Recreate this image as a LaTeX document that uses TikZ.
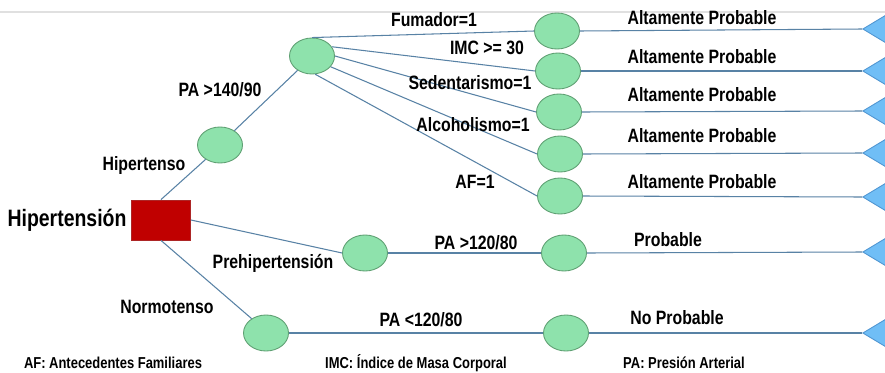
\documentclass[tikz,border=0pt]{standalone}
\usepackage{fontspec}
\setmainfont{Liberation Sans}[FakeStretch=0.82]
\usepackage{xcolor}
\definecolor{leaf}{RGB}{142, 226, 172}
\definecolor{leafline}{RGB}{95, 160, 115}
\definecolor{edge}{RGB}{88, 130, 165}
\definecolor{rootred}{RGB}{192, 0, 0}
\definecolor{endblue}{RGB}{112, 190, 246}
\definecolor{endline}{RGB}{80, 150, 210}
\usepackage{tikz}
\usetikzlibrary{shapes.geometric,positioning}

\begin{document}
\begin{tikzpicture}[
  x=0.02cm, y=-0.02cm,
  chance/.style={draw=leafline, fill=leaf, ellipse, minimum width=0.9cm, minimum height=0.72cm, inner sep=0pt, line width=0.5pt},
  rootbox/.style={draw=rootred!70!gray, fill=rootred, minimum width=1.18cm, minimum height=0.8cm, inner sep=0pt, line width=0.5pt},
  endtri/.style={draw=endline, fill=endblue, isosceles triangle, isosceles triangle apex angle=62, shape border rotate=180, minimum height=0.9cm, inner sep=0pt, anchor=apex, line width=0.5pt},
  branch/.style={draw=edge, line width=0.6pt},
  lbl/.style={font=\bfseries\fontsize{11}{13}\selectfont, inner sep=0pt},
  note/.style={font=\bfseries\fontsize{9}{11}\selectfont, inner sep=0pt}
]
\useasboundingbox[fill=white] (0,0) rectangle (885,372);
\clip (0,0) rectangle (885,372);
\draw[black!12, line width=0.6pt] (0,12) -- (885,12);

% root
\node[rootbox] (root) at (161,220) {};
\node[font=\bfseries\fontsize{13.5}{15}\selectfont, inner sep=0pt] (title) at (67,220) {Hipertensión};

% hipertenso branch
\node[chance] (hip) at (220,145) {};
\node[chance] (hipx) at (312,56) {};
\node[chance] (f1) at (557,31) {};
\node[chance] (f2) at (558,71) {};
\node[chance] (f3) at (559,112) {};
\node[chance] (f4) at (560,154) {};
\node[chance] (f5) at (560,196) {};
\node[endtri] (t1) at (862,29) {};
\node[endtri] (t2) at (862,71) {};
\node[endtri] (t3) at (862,111) {};
\node[endtri] (t4) at (862,153) {};
\node[endtri] (t5) at (862,197) {};

% prehipertension branch
\node[chance] (pre1) at (365,253) {};
\node[chance] (pre2) at (564,253) {};
\node[endtri] (t6) at (862,252) {};

% normotenso branch
\node[chance] (nor1) at (266,333) {};
\node[chance] (nor2) at (566,333) {};
\node[endtri] (t7) at (862,333) {};

\draw[branch] (root.north) -- (hip.225);
\draw[branch] (hip.45) -- (hipx.225);
\draw[branch] (hipx.north) -- (f1.west);
\draw[branch] (hipx.25) -- (f2.west);
\draw[branch] (hipx.east) -- (f3.west);
\draw[branch] (hipx.-30) -- (f4.west);
\draw[branch] (hipx.-80) -- (f5.west);
\foreach \i in {1,...,5}
  \draw[branch] (f\i.east) -- (t\i.apex);
\draw[branch] (root.east) -- (pre1.west);
\draw[branch] (pre1.east) -- (pre2.west);
\draw[branch] (pre2.east) -- (t6.apex);
\draw[branch] (root.south) -- (nor1.135);
\draw[branch] (nor1.east) -- (nor2.west);
\draw[branch] (nor2.east) -- (t7.apex);

% labels
\node[lbl] (lhip) at (144,165) {Hipertenso};
\node[lbl] (lpa140) at (220,90) {PA >140/90};
\node[lbl] (lfum) at (434,20) {Fumador=1};
\node[lbl] (limc) at (487,48) {IMC >= 30};
\node[lbl] (lsed) at (470,83) {Sedentarismo=1};
\node[lbl] (lalc) at (473,125) {Alcoholismo=1};
\node[lbl] (laf) at (475,182) {AF=1};
\foreach \y [count=\i] in {18,57,95,136,182}
  \node[lbl] (res\i) at (702,\y) {Altamente Probable};
\node[lbl] (lpre) at (273,263) {Prehipertensión};
\node[lbl] (lpa120) at (476,243) {PA >120/80};
\node[lbl] (res6) at (668,240) {Probable};
\node[lbl] (lnor) at (167,307) {Normotenso};
\node[lbl] (lpa120b) at (421,320) {PA <120/80};
\node[lbl] (res7) at (677,318) {No Probable};

% notes
\node[note] (naf) at (113,363) {AF: Antecedentes Familiares};
\node[note] (nimc) at (416,363) {IMC: Índice de Masa Corporal};
\node[note] (npa) at (684,363) {PA: Presión Arterial};
\end{tikzpicture}
\end{document}
